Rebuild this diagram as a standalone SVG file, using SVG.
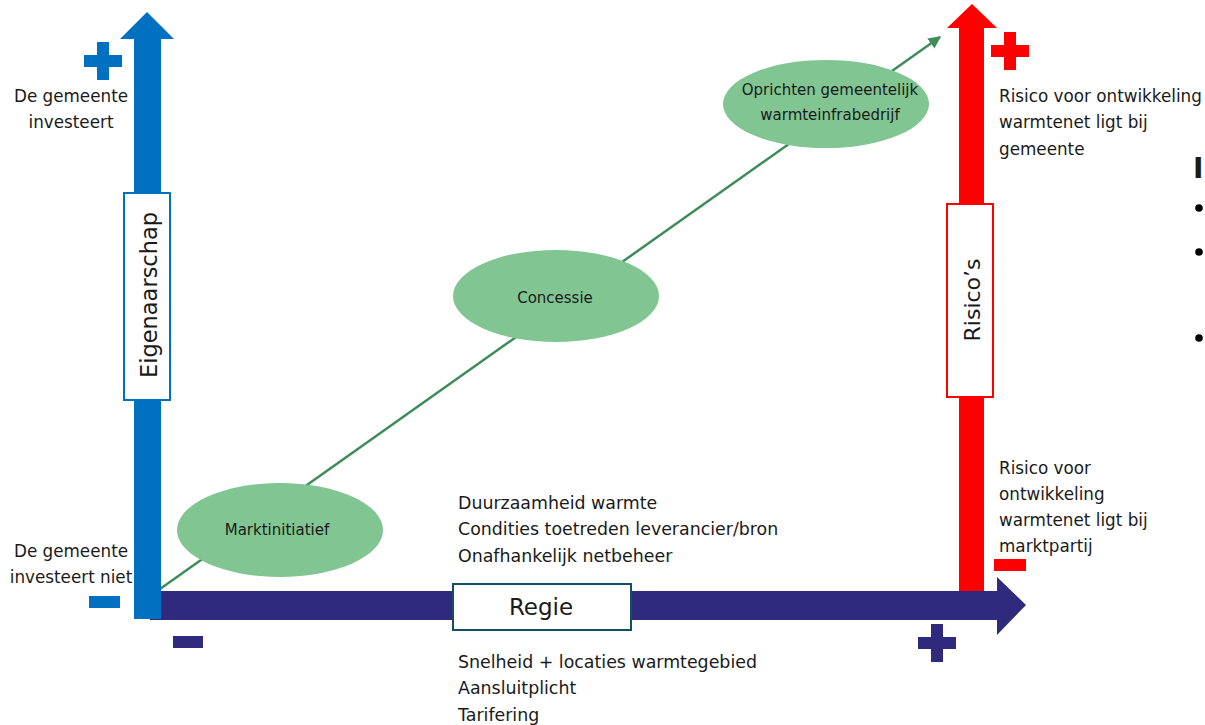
<svg xmlns="http://www.w3.org/2000/svg" width="1205" height="725" viewBox="0 0 1205 725">
<defs>
<style>
.t{font-family:"DejaVu Sans","Liberation Sans",sans-serif;fill:#1a1a1a}
.lbl{font-size:16.8px}
.lbr{font-size:17.4px}
.ell{font-size:15px;text-anchor:middle}
.ellipse{fill:#80c592}
.box{fill:#ffffff;stroke-width:2}
</style>
<path id="plus" d="M-6,-19h12v13h13v12h-13v13h-12v-13h-13v-12h13z"/>
<marker id="ah" viewBox="0 0 10 10" refX="9" refY="5" markerWidth="5" markerHeight="5" orient="auto" markerUnits="strokeWidth">
<path d="M0,0L10,5L0,10z" fill="#3d8c5a"/>
</marker>
</defs>
<rect width="1205" height="725" fill="#ffffff"/>

<g id="connectors">
<line x1="160" y1="589" x2="940" y2="37" stroke="#3d8c5a" stroke-width="2.5" marker-end="url(#ah)"/>
</g>

<g id="axis-risicos">
<path d="M959,591V28H947L972,4L997,28H984V591Z" fill="#ff0000"/>
<rect class="box" x="947" y="204" width="46" height="193" stroke="#ff0000"/>
<text class="t" transform="translate(980,300) rotate(-90)" text-anchor="middle" font-size="22">Risico’s</text>
<use href="#plus" x="1010" y="51" fill="#ff0000"/>
<rect x="994" y="559" width="32" height="12" fill="#ff0000"/>
</g>

<g id="axis-regie">
<path d="M150,591H997V577L1026,605L997,635V620H150Z" fill="#302a7e"/>
<rect class="box" x="453" y="584" width="178" height="46" stroke="#134f63"/>
<text class="t" x="541" y="615" text-anchor="middle" font-size="23">Regie</text>
<use href="#plus" x="937" y="643" fill="#302a7e"/>
<rect x="173" y="636" width="30" height="12" fill="#302a7e"/>
</g>

<g id="axis-eigenaarschap">
<path d="M134,619V39H120L147,12L174,39H161V619Z" fill="#0070c0"/>
<rect class="box" x="124" y="193" width="46" height="207" stroke="#0070c0"/>
<text class="t" transform="translate(157,295) rotate(-90)" text-anchor="middle" font-size="22.5">Eigenaarschap</text>
<use href="#plus" x="103" y="61" fill="#0070c0"/>
<rect x="89" y="596" width="31" height="12" fill="#0070c0"/>
</g>

<g id="node-marktinitiatief">
<ellipse class="ellipse" cx="280" cy="530" rx="103" ry="47"/>
<text class="t ell" x="277" y="535">Marktinitiatief</text>
</g>
<g id="node-concessie">
<ellipse class="ellipse" cx="556" cy="296" rx="103" ry="46"/>
<text class="t ell" x="555" y="303">Concessie</text>
</g>
<g id="node-oprichten">
<ellipse class="ellipse" cx="826" cy="104" rx="103" ry="44"/>
<text class="t ell" x="830" y="95">Oprichten gemeentelijk</text>
<text class="t ell" x="830" y="120">warmteinfrabedrijf</text>
</g>

<g id="labels-left">
<text class="t lbl" text-anchor="middle" x="71" y="102">De gemeente</text>
<text class="t lbl" text-anchor="middle" x="71" y="128">investeert</text>
<text class="t lbl" text-anchor="middle" x="71" y="557">De gemeente</text>
<text class="t lbl" text-anchor="middle" x="71" y="583">investeert niet</text>
</g>

<g id="labels-regie">
<text class="t lbr" x="458" y="509">Duurzaamheid warmte</text>
<text class="t lbr" x="458" y="535">Condities toetreden leverancier/bron</text>
<text class="t lbr" x="458" y="562">Onafhankelijk netbeheer</text>
<text class="t lbr" x="458" y="668">Snelheid + locaties warmtegebied</text>
<text class="t lbr" x="458" y="694">Aansluitplicht</text>
<text class="t lbr" x="458" y="721">Tarifering</text>
</g>

<g id="labels-right">
<text class="t lbl" x="999" y="102">Risico voor ontwikkeling</text>
<text class="t lbl" x="999" y="128">warmtenet ligt bij</text>
<text class="t lbl" x="999" y="155">gemeente</text>
<text class="t lbl" x="999" y="474">Risico voor</text>
<text class="t lbl" x="999" y="500">ontwikkeling</text>
<text class="t lbl" x="999" y="526">warmtenet ligt bij</text>
<text class="t lbl" x="999" y="552">marktpartij</text>
</g>

<g id="cut-off-list">
<text class="t" x="1193" y="178" font-size="28" font-weight="bold">I</text>
<circle cx="1199" cy="208" r="3.8" fill="#000000"/>
<circle cx="1199" cy="252" r="3.8" fill="#000000"/>
<circle cx="1199" cy="338" r="3.8" fill="#000000"/>
</g>
</svg>
